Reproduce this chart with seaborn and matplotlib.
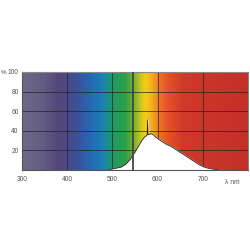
import numpy as np
import matplotlib
matplotlib.use("Agg")
import matplotlib.pyplot as plt
from matplotlib.colors import LinearSegmentedColormap
import seaborn as sns
import pandas as pd

# Spectral power distribution (relative %)
wavelength_nm = [490, 500, 510, 520, 530, 540, 545, 550, 555, 560, 565, 570, 575,
                 577, 578, 579, 580, 585, 590, 595, 600, 610, 620, 630, 640, 650,
                 660, 670, 680, 690, 700, 710, 720, 730, 740]
rel_power = [0, 1, 2, 3, 6, 11, 15, 18, 22, 26, 30, 33, 35,
             36, 51, 36, 36, 37, 36, 34, 32, 29, 26, 24, 21, 18,
             15, 12, 9, 6, 3.5, 2, 1, 0.5, 0]
line_nm = [546]

x_ticks = [300, 400, 500, 600, 700]
y_ticks = [20, 40, 60, 80, 100]

# background spectrum colours
bg_nm = [300, 350, 380, 420, 450, 480, 500, 530, 550, 565, 575, 590, 605, 625, 660, 800]
bg_col = ["#6d6a86", "#625a82", "#564579", "#3d4f97", "#2668b2", "#1c82b4", "#1f9a62",
          "#2ea048", "#84b32e", "#d6c91e", "#f6cd16", "#f3a51f", "#ec7224", "#e4502a",
          "#cf3829", "#c3302a"]

sns.set_style("white")
plt.rcParams["font.family"] = ["Liberation Sans", "DejaVu Sans"]
fig = plt.figure(figsize=(2.5, 2.5), dpi=100)
ax = fig.add_axes([0.088, 0.32, 0.904, 0.392])

pos = [(w - 300) / 500 for w in bg_nm]
cmap = LinearSegmentedColormap.from_list("spec", list(zip(pos, bg_col)))
grad = np.linspace(0, 1, 500).reshape(1, -1)
ax.imshow(grad, cmap=cmap, aspect="auto", extent=[300, 800, 0, 100], zorder=0)

df = pd.DataFrame({"nm": wavelength_nm, "p": rel_power})
ax.fill_between(df["nm"], df["p"], color="white", zorder=2)
sns.lineplot(data=df, x="nm", y="p", ax=ax, color="#222222", lw=0.6, zorder=3)

for w in line_nm:
    ax.axvline(w, color="#444444", lw=1.3, zorder=3)

ax.set_xlim(300, 800)
ax.set_ylim(0, 100)
ax.set_xticks(x_ticks)
ax.set_xticks(np.arange(300, 800, 20), minor=True)
ax.set_yticks(y_ticks)
ax.set_xlabel("")
ax.set_ylabel("")
for v in x_ticks[1:]:
    ax.axvline(v, color="#222222", lw=0.7, alpha=0.7, zorder=1)
for v in y_ticks[:-1]:
    ax.axhline(v, color="#222222", lw=0.7, alpha=0.7, zorder=1)

ax.tick_params(axis="both", labelsize=4.8, colors="#555555", length=2, width=0.6, pad=2.5)
ax.tick_params(axis="x", which="minor", length=1.5, width=0.5, colors="#555555")
ax.tick_params(axis="y", length=0, pad=2.5)
for s in ax.spines.values():
    s.set_color("#888888")
    s.set_linewidth(0.8)
ax.spines["left"].set_color("#555555")
ax.spines["bottom"].set_color("#555555")

fig.text(0.004, 0.712, "%", fontsize=4.5, color="#555555", ha="left", va="center")
fig.text(0.93, 0.268, "λ nm", fontsize=4.8, color="#555555", ha="center", va="center")

fig.savefig("out.png", dpi=100, facecolor="white")
